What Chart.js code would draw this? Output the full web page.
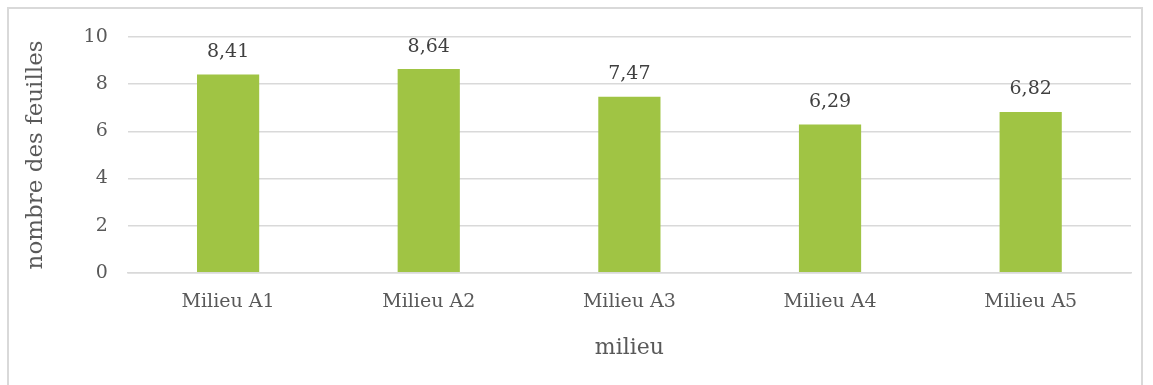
<!DOCTYPE html>
<html>
<head>
<meta charset="utf-8">
<script src="https://cdn.jsdelivr.net/npm/chart.js@4"></script>
<style>
  html, body { margin: 0; padding: 0; background: #fff; }
  #wrap { position: relative; width: 1153px; height: 385px; overflow: hidden; }
  #frame { position: absolute; left: 7px; top: 7px; width: 1136px; height: 400px; border: 2px solid #d9d9d9; box-sizing: border-box; }
  canvas { position: absolute; left: 0; top: 0; }
</style>
</head>
<body>
<div id="wrap">
  <div id="frame"></div>
  <canvas id="chart" width="1153" height="385"></canvas>
</div>
<script>
"use strict";

const milieux = ["Milieu A1", "Milieu A2", "Milieu A3", "Milieu A4", "Milieu A5"];
const feuilles = [8.41, 8.64, 7.47, 6.29, 6.82];

const fontFamily = "'DejaVu Serif', 'Liberation Serif', serif";
const textColor = "#595959";

// write the value above each bar, with a decimal comma
const valueLabels = {
  id: "valueLabels",
  afterDatasetsDraw(chart) {
    const ctx = chart.ctx;
    const meta = chart.getDatasetMeta(0);
    ctx.save();
    ctx.font = "19px " + fontFamily;
    ctx.fillStyle = "#404040";
    ctx.textAlign = "center";
    ctx.textBaseline = "bottom";
    meta.data.forEach(function (bar, i) {
      const txt = feuilles[i].toFixed(2).replace(".", ",");
      ctx.fillText(txt, bar.x, bar.y - 13);
    });
    ctx.restore();
  },
};

const ctx1 = document.getElementById("chart");

const myChart = new Chart(ctx1, {
  type: "bar",
  data: {
    labels: milieux,
    datasets: [
      {
        data: feuilles,
        backgroundColor: "#a0c444",
        barPercentage: 0.62,
        categoryPercentage: 0.5,
      },
    ],
  },
  options: {
    responsive: false,
    animation: false,
    layout: { padding: { left: 18, right: 22, top: 37, bottom: 20 } },
    plugins: {
      legend: { display: false },
      tooltip: { enabled: false },
    },
    scales: {
      x: {
        grid: { display: false, drawTicks: false },
        border: { color: "#d9d9d9", width: 1.5 },
        ticks: { color: textColor, font: { family: fontFamily, size: 19 }, padding: 18 },
        title: {
          display: true,
          text: "milieu",
          color: textColor,
          font: { family: fontFamily, size: 22 },
          padding: { top: 3 },
        },
      },
      y: {
        min: 0,
        max: 10,
        grid: { color: "#d9d9d9", lineWidth: 1.5, drawTicks: false },
        border: { display: false },
        ticks: {
          stepSize: 2,
          color: textColor,
          font: { family: fontFamily, size: 19 },
          padding: 20,
        },
        title: {
          display: true,
          text: "nombre des feuilles",
          color: textColor,
          font: { family: fontFamily, size: 23 },
          padding: { bottom: 14 },
        },
      },
    },
  },
  plugins: [valueLabels],
});
</script>
</body>
</html>
